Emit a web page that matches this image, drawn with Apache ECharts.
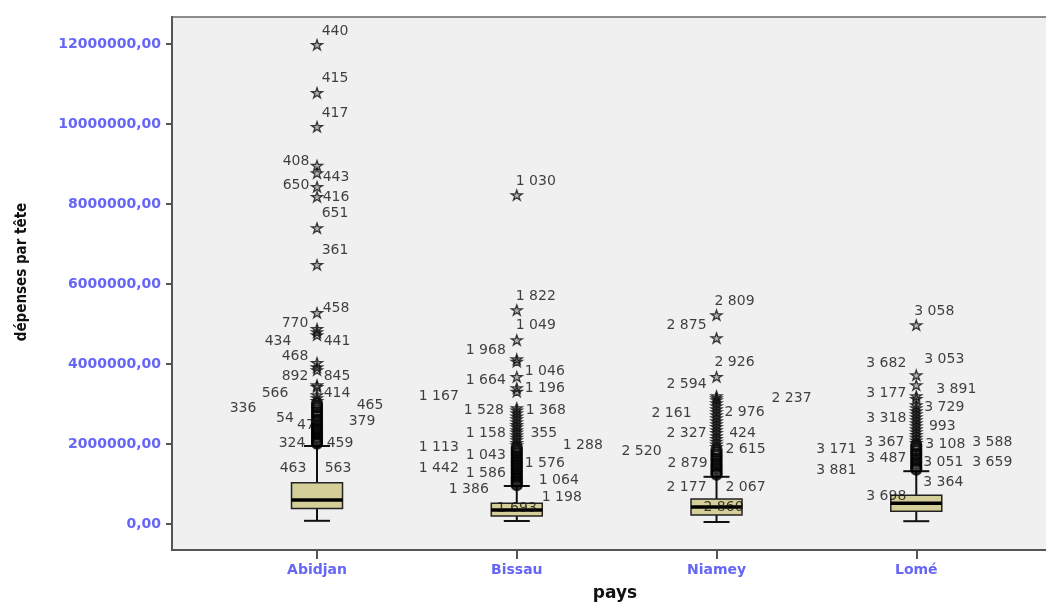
<!DOCTYPE html>
<html>
<head>
<meta charset="utf-8">
<script src="https://cdn.jsdelivr.net/npm/echarts@6/dist/echarts.min.js"></script>
<style>
html,body{margin:0;padding:0;background:#fff;overflow:hidden;}
#chart{width:1046px;height:605px;}
</style>
</head>
<body>
<div id="chart"></div>
<script>
// ---- data ----
const categories = ['Abidjan', 'Bissau', 'Niamey', 'Lomé'];
const yTickValues = [0, 2000000, 4000000, 6000000, 8000000, 10000000, 12000000];

// [min, Q1, median, Q3, upper whisker]
const abidjanBox = [80000, 390000, 600000, 1030000, 1950000];
const bissauBox  = [75000, 200000, 350000, 520000, 950000];
const niameyBox  = [50000, 225000, 425000, 625000, 1180000];
const lomeBox    = [70000, 320000, 520000, 720000, 1320000];

// extreme outliers (stars)
const abidjanStars = [11980000, 10780000, 9930000, 8960000, 8770000, 8430000, 8180000, 7400000, 6480000, 5280000, 4880000, 4800000, 4720000, 4030000, 3920000, 3850000, 3470000, 3430000, 3220000, 3150000, 3080000];
const bissauStars  = [8220000, 5350000, 4600000, 4120000, 4060000, 3680000, 3400000, 3310000, 2900000, 2840000, 2770000, 2690000, 2620000, 2550000, 2480000, 2420000, 2350000, 2290000, 2220000, 2160000, 2100000, 2030000, 1970000];
const niameyStars  = [5220000, 4650000, 3680000, 3200000, 3150000, 3100000, 3020000, 2950000, 2870000, 2800000, 2720000, 2650000, 2570000, 2500000, 2430000, 2350000, 2280000, 2200000, 2130000, 2060000, 1990000, 1930000];
const lomeStars    = [4970000, 3720000, 3470000, 3200000, 3130000, 2970000, 2900000, 2820000, 2750000, 2670000, 2600000, 2520000, 2450000, 2370000, 2300000, 2230000, 2160000, 2090000, 2030000];

// outliers (circles)
const abidjanCircles = [3020000, 2960000, 2910000, 2840000, 2790000, 2730000, 2680000, 2610000, 2570000, 2520000, 2460000, 2410000, 2370000, 2330000, 2280000, 2240000, 2190000, 2150000, 2110000, 2070000, 2040000, 2010000];
const bissauCircles  = [1920000, 1870000, 1820000, 1770000, 1720000, 1670000, 1620000, 1570000, 1530000, 1480000, 1440000, 1390000, 1350000, 1300000, 1260000, 1210000, 1170000, 1130000, 1090000, 1050000, 1010000, 970000];
const niameyCircles  = [1860000, 1800000, 1740000, 1690000, 1630000, 1580000, 1520000, 1470000, 1420000, 1370000, 1320000, 1270000, 1230000];
const lomeCircles    = [1980000, 1930000, 1870000, 1820000, 1760000, 1710000, 1650000, 1600000, 1550000, 1500000, 1450000, 1400000, 1360000];

// case labels: [text, value where the text sits, horizontal shift]
const abidjanLabels = [
  ['440', 12325000, 18], ['415', 11150000, 18], ['417', 10275000, 18],
  ['408', 9075000, -21], ['443', 8675000, 19], ['650', 8475000, -21], ['416', 8175000, 19],
  ['651', 7775000, 18], ['361', 6850000, 18], ['458', 5400000, 19], ['770', 5025000, -22],
  ['434', 4575000, -39], ['441', 4575000, 20], ['468', 4200000, -22], ['892', 3700000, -22],
  ['845', 3700000, 20], ['566', 3275000, -42], ['414', 3275000, 20], ['336', 2900000, -74],
  ['465', 2975000, 53], ['54', 2650000, -32], ['379', 2575000, 45], ['47', 2475000, -11],
  ['324', 2025000, -25], ['459', 2025000, 23], ['463', 1400000, -24], ['563', 1400000, 21]
];
const bissauLabels = [
  ['1 030', 8575000, 19], ['1 822', 5700000, 19], ['1 049', 4975000, 19], ['1 968', 4350000, -31],
  ['1 046', 3825000, 28], ['1 664', 3600000, -31], ['1 196', 3400000, 28], ['1 167', 3200000, -78],
  ['1 528', 2850000, -33], ['1 368', 2850000, 29], ['1 158', 2275000, -31], ['355', 2275000, 27],
  ['1 288', 1975000, 66], ['1 113', 1925000, -78], ['1 043', 1725000, -31], ['1 576', 1525000, 28],
  ['1 442', 1400000, -78], ['1 586', 1275000, -31], ['1 064', 1100000, 42], ['1 386', 875000, -48],
  ['1 198', 675000, 45], ['1 693', 400000, 0]
];
const niameyLabels = [
  ['2 809', 5575000, 18], ['2 875', 4975000, -30], ['2 926', 4050000, 18], ['2 594', 3500000, -30],
  ['2 237', 3150000, 75], ['2 161', 2775000, -45], ['2 976', 2800000, 28], ['2 327', 2275000, -30],
  ['424', 2275000, 26], ['2 520', 1825000, -75], ['2 615', 1875000, 29], ['2 879', 1525000, -29],
  ['2 177', 925000, -30], ['2 067', 925000, 29], ['2 860', 425000, 7]
];
const lomeLabels = [
  ['3 058', 5325000, 18], ['3 682', 4025000, -30], ['3 053', 4125000, 28], ['3 177', 3275000, -30],
  ['3 891', 3375000, 40], ['3 729', 2925000, 28], ['3 318', 2650000, -30], ['993', 2450000, 26],
  ['3 367', 2050000, -32], ['3 108', 2000000, 29], ['3 588', 2050000, 76], ['3 171', 1875000, -80],
  ['3 487', 1650000, -30], ['3 051', 1550000, 27], ['3 659', 1550000, 76], ['3 881', 1350000, -80],
  ['3 364', 1050000, 27], ['3 698', 700000, -30]
];

// ---- build ----
const boxes = [abidjanBox, bissauBox, niameyBox, lomeBox];
const starsAll = [abidjanStars, bissauStars, niameyStars, lomeStars];
const circlesAll = [abidjanCircles, bissauCircles, niameyCircles, lomeCircles];
const labelsAll = [abidjanLabels, bissauLabels, niameyLabels, lomeLabels];

const boxData = boxes.map((b, i) => [i].concat(b));
const starData = [];
starsAll.forEach((arr, i) => arr.forEach(v => starData.push([i, v])));
const circleData = [];
circlesAll.forEach((arr, i) => arr.forEach(v => circleData.push([i, v])));
const labelData = [];
labelsAll.forEach((arr, i) => arr.forEach(l => labelData.push({
  value: [i, l[1]],
  label: { formatter: l[0], offset: [l[2], 0] }
})));

const starPath = 'path://M50,2 L61,36 L97,36 L68,57 L79,92 L50,71 L21,92 L32,57 L3,36 L39,36 Z';
const tickBlue = '#6666f6';

const chart = echarts.init(document.getElementById('chart'), null, { renderer: 'canvas' });
chart.setOption({
  animation: false,
  backgroundColor: '#ffffff',
  grid: {
    left: 172, top: 17, width: 884, bottom: 55,
    outerBoundsMode: 'none', containLabel: false,
    show: true, backgroundColor: '#f0f0f0', borderColor: '#8c8c8c', borderWidth: 2
  },
  xAxis: {
    type: 'value', min: -0.726, max: 3.6995,
    splitLine: { show: false },
    axisLine: { show: true, onZero: false, lineStyle: { color: '#555', width: 2 } },
    axisTick: { show: true, customValues: [0, 1, 2, 3], length: 9, lineStyle: { color: '#555', width: 2 } },
    axisLabel: {
      customValues: [0, 1, 2, 3],
      formatter: v => categories[Math.round(v)],
      color: tickBlue, fontWeight: 'bold', fontFamily: 'DejaVu Sans', fontSize: 14, margin: 13
    }
  },
  yAxis: {
    type: 'value', min: -650000, max: 12675000,
    splitLine: { show: false },
    axisLine: { show: true, onZero: false, lineStyle: { color: '#555', width: 2 } },
    axisTick: { show: true, customValues: yTickValues, length: 6, lineStyle: { color: '#555', width: 2 } },
    axisLabel: {
      customValues: yTickValues,
      formatter: v => v.toFixed(0) + ',00',
      color: tickBlue, fontWeight: 'bold', fontFamily: 'DejaVu Sans', fontSize: 14, margin: 11
    }
  },
  graphic: [
    {
      type: 'text', x: 22, y: 272, rotation: Math.PI / 2,
      style: {
        text: 'dépenses par tête', fill: '#111', fontWeight: 'bold',
        fontFamily: 'DejaVu Sans Condensed', fontSize: 15, align: 'center', verticalAlign: 'middle'
      }
    },
    {
      type: 'text', x: 615, y: 594,
      style: {
        text: 'pays', fill: '#111', fontWeight: 'bold',
        fontFamily: 'DejaVu Sans', fontSize: 17, align: 'center', verticalAlign: 'middle'
      }
    }
  ],
  series: [
    {
      type: 'custom',
      data: boxData,
      encode: { x: 0, y: [1, 2, 3, 4, 5] },
      z: 2,
      silent: true,
      renderItem: function (params, api) {
        const i = api.value(0);
        const pMin = api.coord([i, api.value(1)]);
        const pQ1 = api.coord([i, api.value(2)]);
        const pMed = api.coord([i, api.value(3)]);
        const pQ3 = api.coord([i, api.value(4)]);
        const pMax = api.coord([i, api.value(5)]);
        const x = pMin[0];
        const hw = 25.5, cw = 13;
        const ls = { stroke: '#111', lineWidth: 2 };
        return {
          type: 'group',
          children: [
            { type: 'line', shape: { x1: x, y1: pMax[1], x2: x, y2: pQ3[1] }, style: ls },
            { type: 'line', shape: { x1: x, y1: pQ1[1], x2: x, y2: pMin[1] }, style: ls },
            { type: 'line', shape: { x1: x - cw, y1: pMin[1], x2: x + cw, y2: pMin[1] }, style: ls },
            { type: 'line', shape: { x1: x - cw, y1: pMax[1], x2: x + cw, y2: pMax[1] }, style: ls },
            { type: 'rect', shape: { x: x - hw, y: pQ3[1], width: 2 * hw, height: pQ1[1] - pQ3[1] },
              style: { fill: '#d4cf98', stroke: '#222', lineWidth: 1.5 } },
            { type: 'line', shape: { x1: x - hw, y1: pMed[1], x2: x + hw, y2: pMed[1] },
              style: { stroke: '#000', lineWidth: 3.5 } }
          ]
        };
      }
    },
    {
      type: 'scatter', data: circleData, z: 3, silent: true,
      symbol: 'circle', symbolSize: 10,
      itemStyle: { color: 'rgba(0,0,0,0)', borderColor: '#000', borderWidth: 2.2 }
    },
    {
      type: 'scatter', data: starData, z: 4, silent: true,
      symbol: starPath, symbolSize: [11, 10],
      itemStyle: { color: 'rgba(0,0,0,0.3)', borderColor: '#111', borderWidth: 1.3 }
    },
    {
      type: 'scatter', data: labelData, z: 5, silent: true,
      symbolSize: 0,
      itemStyle: { color: 'rgba(0,0,0,0)' },
      label: {
        show: true, position: 'inside',
        color: '#111', fontFamily: 'DejaVu Sans', fontSize: 14
      }
    }
  ]
});
</script>
</body>
</html>
